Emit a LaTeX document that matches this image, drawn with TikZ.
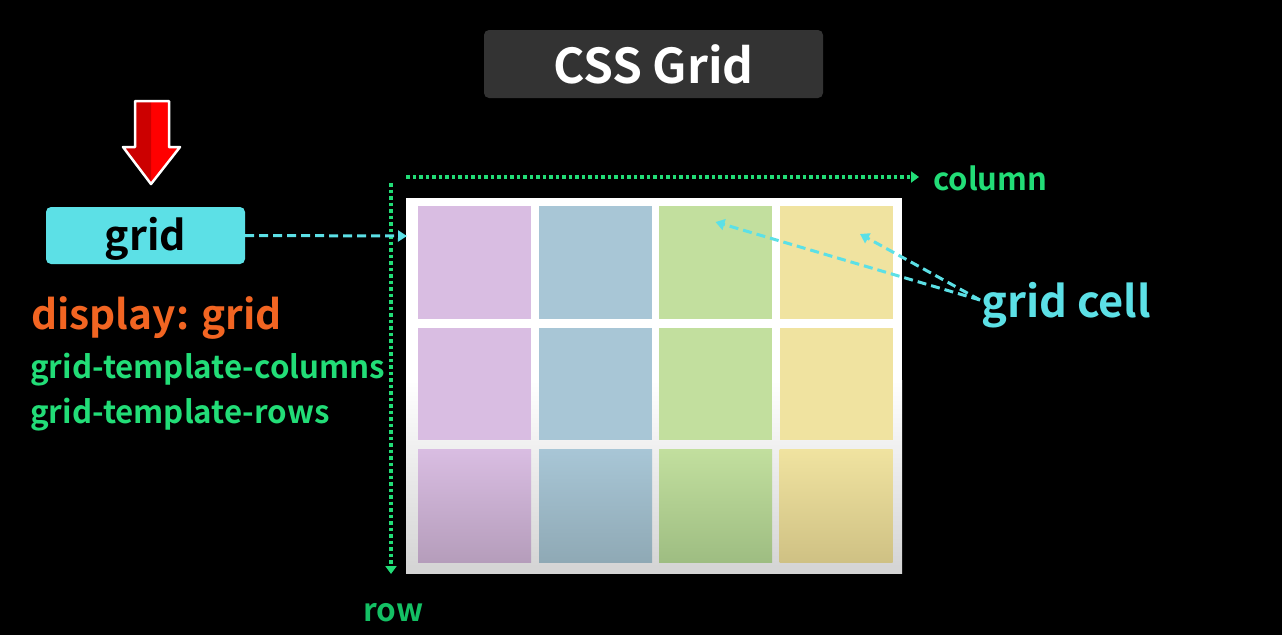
\documentclass[tikz,border=0pt]{standalone}
\usepackage{fontspec}
\setmainfont{Noto Sans CJK JP}[BoldFont={* Bold}]
\usetikzlibrary{arrows.meta,calc}
\definecolor{bg}{HTML}{000000}
\definecolor{titlebg}{HTML}{333333}
\definecolor{cyanc}{HTML}{5CE0E6}
\definecolor{orangec}{HTML}{F26522}
\definecolor{greenc}{HTML}{22DD77}
\definecolor{rowgreen}{HTML}{14C064}
\definecolor{redl}{HTML}{CC0000}
\definecolor{redr}{HTML}{FF0000}
\definecolor{cpur}{HTML}{D9BDE2}
\definecolor{cblu}{HTML}{A8C6D6}
\definecolor{cgrn}{HTML}{C2DF9E}
\definecolor{cyel}{HTML}{F0E3A0}
\definecolor{dpur}{HTML}{B59DBB}
\definecolor{dblu}{HTML}{8FA9B5}
\definecolor{dgrn}{HTML}{9EBD82}
\definecolor{dyel}{HTML}{CFC184}
\tikzset{
  cellbox/.style={minimum width=113pt, minimum height=113pt, inner sep=0pt, draw=none},
  dotline/.style={greenc, line width=3.5pt, dash pattern=on 3.5pt off 3pt, -{Triangle[length=8pt,width=11pt]}},
  dashline/.style={cyanc, line width=3pt, dash pattern=on 9pt off 5pt, -{Triangle[length=9pt,width=11pt]}},
  lbl/.style={inner sep=0pt, anchor=west, font=\bfseries},
}
\begin{document}
\begin{tikzpicture}[x=1pt,y=-1pt]
\fill[bg] (0,0) rectangle (1282,635);
\useasboundingbox (0,0) rectangle (1282,635);
% title
\node[fill=titlebg, rounded corners=5pt, minimum width=339pt, minimum height=68pt, inner sep=0pt,
      text=white, font=\fontsize{48}{50}\selectfont\bfseries] (title) at (653.5,64) {CSS Grid};
% red arrow
\fill[redr] (135,101) -- (169,101) -- (169,147) -- (180,147) -- (151,184) -- (123,147) -- (135,147) -- cycle;
\fill[redl] (135,101) -- (151,101) -- (151,184) -- (123,147) -- (135,147) -- cycle;
\draw[white, line width=2.5pt, line join=round] (135,101) -- (169,101) -- (169,147) -- (180,147) -- (151,184) -- (123,147) -- (135,147) -- cycle;
% grid box
\node[fill=cyanc, rounded corners=5pt, minimum width=199pt, minimum height=57pt, inner sep=0pt,
      text height=39pt, text depth=8.6pt,
      text=black, font=\fontsize{41}{42}\selectfont\bfseries] (gridbox) at (145.5,235.5) {grid};
% left texts
\node[lbl, text=orangec, font=\fontsize{40.6}{42}\selectfont\bfseries] (disp) at (31,318) {display: grid};
\node[lbl, text=greenc, font=\fontsize{31.3}{32}\selectfont\bfseries] (gtc) at (30,370) {grid-template-columns};
\node[lbl, text=greenc, font=\fontsize{31.3}{32}\selectfont\bfseries] (gtr) at (30,415) {grid-template-rows};
% container
\node[fill=white, minimum width=496pt, minimum height=375pt, inner sep=0pt] (cont) at (654,385.5) {};
\shade[top color=white, bottom color=black!17] (406,380) rectangle (902,573);
% cells
\node[cellbox, fill=cpur] (c11) at (474.5,262.5) {};
\node[cellbox, fill=cblu] (c12) at (595.5,262.5) {};
\node[cellbox, fill=cgrn] (c13) at (715.5,262.5) {};
\node[cellbox, fill=cyel] (c14) at (836,262.5) {};
\node[cellbox, minimum height=112pt, fill=cpur] (c21) at (474.5,384) {};
\node[cellbox, minimum height=112pt, fill=cblu] (c22) at (595.5,384) {};
\node[cellbox, minimum height=112pt, fill=cgrn] (c23) at (715.5,384) {};
\node[cellbox, minimum height=112pt, fill=cyel] (c24) at (836,384) {};
\node[cellbox, top color=cpur, bottom color=dpur] (c31) at (474.5,505.5) {};
\node[cellbox, top color=cblu, bottom color=dblu] (c32) at (595.5,505.5) {};
\node[cellbox, top color=cgrn, bottom color=dgrn] (c33) at (715.5,505.5) {};
\node[cellbox, top color=cyel, bottom color=dyel] (c34) at (836,505.5) {};
% axes
\coordinate (colstart) at (406,177);
\coordinate (colend) at (919,177);
\coordinate (rowstart) at (391,183);
\coordinate (rowend) at (391,574);
\draw[dotline] (colstart) -- (colend);
\draw[dotline] (rowstart) -- (rowend);
\node[lbl, text=greenc, font=\fontsize{31}{32}\selectfont\bfseries] (collbl) at (933,178) {column};
\node[lbl, text=rowgreen, font=\fontsize{31.5}{32}\selectfont\bfseries] (rowlbl) at (363,613) {row};
% grid -> container
\coordinate (contin) at (407,236);
\draw[dashline] (gridbox.east) -- (contin);
% grid cell
\node[lbl, text=cyanc, font=\fontsize{43.4}{45}\selectfont\bfseries] (gcell) at (981,305) {grid cell};
\coordinate (gcsrc) at (980,300);
\coordinate (t13) at ($(c13.center)+(0,-40.5)$);
\coordinate (t14) at ($(c14.center)+(24,-28.5)$);
\draw[dashline] (gcsrc) -- (t13);
\draw[dashline] (gcsrc) -- (t14);
\end{tikzpicture}
\end{document}
